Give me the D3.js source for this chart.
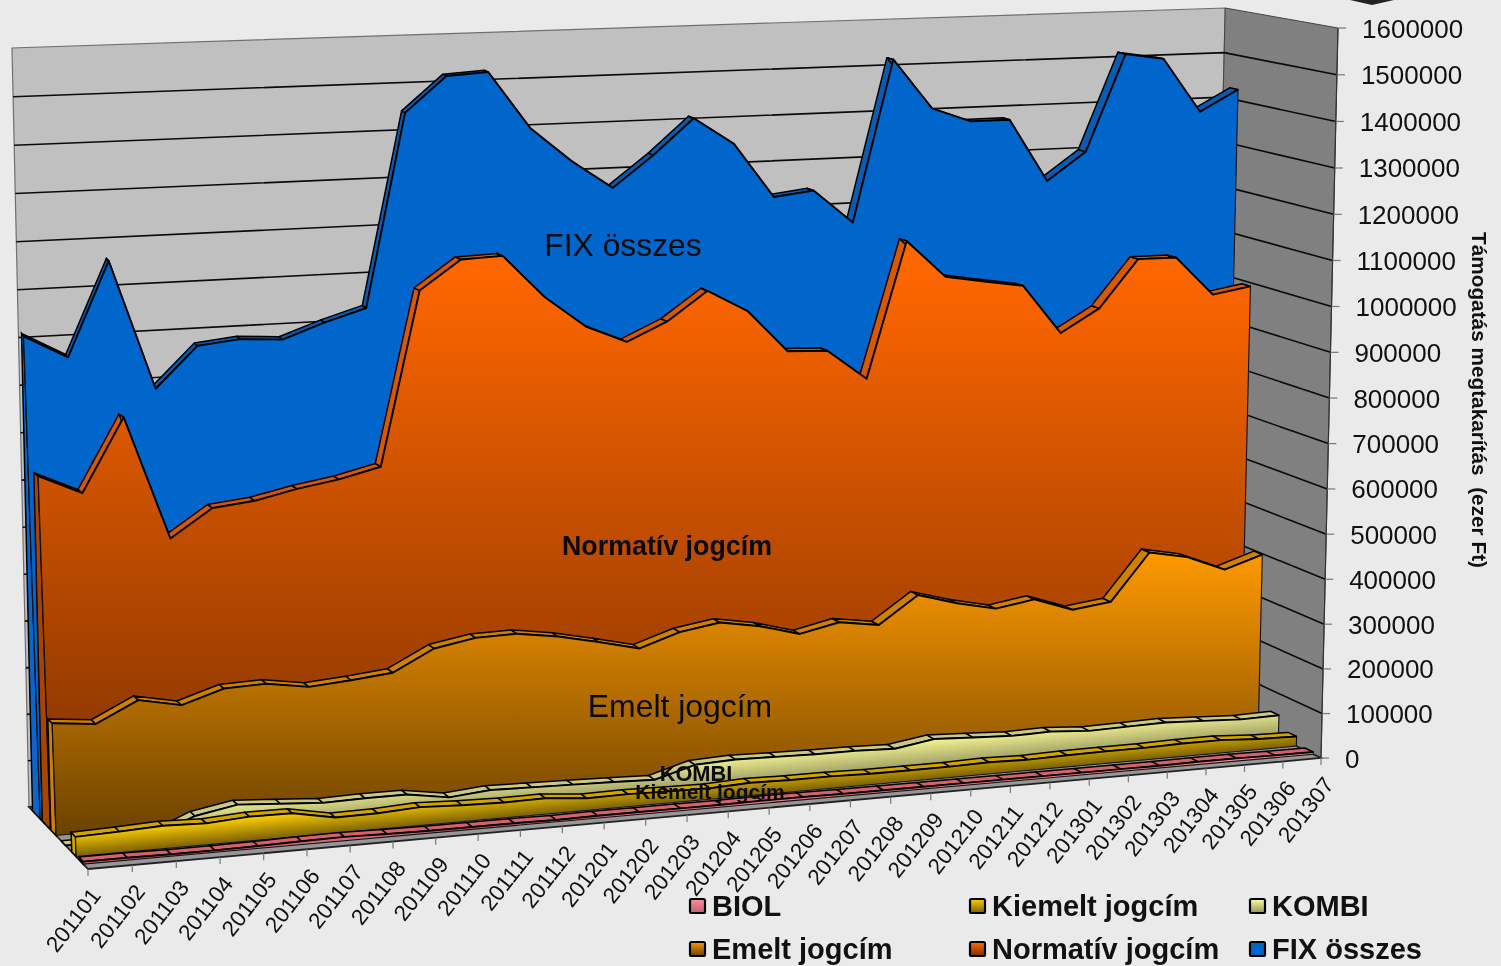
<!DOCTYPE html>
<html><head><meta charset="utf-8">
<script src="https://cdn.jsdelivr.net/npm/d3@7/dist/d3.min.js"></script>
<style>
html,body{margin:0;padding:0;background:#eaeaea;overflow:hidden}
svg{display:block;font-family:"Liberation Sans",Arial,sans-serif}
</style></head><body>
<svg id="c" width="1501" height="966"></svg>
<script>
const categories = ["201101","201102","201103","201104","201105","201106","201107","201108","201109","201110","201111","201112","201201","201202","201203","201204","201205","201206","201207","201208","201209","201210","201211","201212","201301","201302","201303","201304","201305","201306","201307"];
const yTickMax = 1600000;
const seriesNames = ["BIOL","Kiemelt jogcím","KOMBI","Emelt jogcím","Normatív jogcím","FIX összes"];
const biol = [5000,5000,4000,4000,5000,7000,8000,6000,5000,5000,5000,4000,5000,5000,5000,5000,6000,6000,5000,5000,5000,5000,5000,5000,5000,5000,5000,6000,6000,5000,5000];
const kiemelt = [41000,44000,48000,45000,51000,50000,33000,34000,39000,35000,33000,34000,26000,27000,25000,24000,28000,26000,26000,24000,24000,24000,26000,24000,26000,27000,27000,29000,29000,24000,22000];
const kombi = [0,0,0,38000,54000,48000,42000,44000,44000,30000,38000,36000,34000,32000,29000,54000,58000,56000,54000,54000,51000,65000,61000,57000,59000,53000,55000,57000,53000,49000,51000];
const emelt = [237000,228000,271000,253000,281000,284000,270000,277000,286000,331000,347000,349000,336000,317000,296000,325000,339000,324000,300000,319000,306000,366000,341000,322000,336000,306000,317000,422000,405000,370000,398000];
const normativ = [743000,702000,854000,594000,652000,661000,680000,694000,715000,1083000,1144000,1147000,1055000,987000,949000,988000,1049000,1000000,908000,904000,837000,1134000,1051000,1036000,1022000,912000,962000,1067000,1066000,978000,992000];
const fix = [1018000,969000,1165000,893000,978000,987000,981000,1012000,1038000,1446000,1520000,1525000,1403000,1329000,1268000,1334000,1410000,1351000,1232000,1242000,1168000,1520000,1410000,1378000,1378000,1239000,1300000,1513000,1499000,1378000,1424000];
const seriesValues = [biol,kiemelt,kombi,emelt,normativ,fix];

/* view geometry */
const depthLeft  = [0.08,0.20,0.38,0.54,0.635,0.81];
const depthRight = [0.07,0.22,0.38,0.56,0.72,0.87];
const ribbon = 0.075;
const capBase = [0.06,0.075,0.075,0.09,0.14,0.13];
const faceStops = [["#ff8c9c","#c06070"],["#ffd000","#7a6000"],["#ffff99","#93935f"],["#ff9900","#6a4200"],["#ff6600","#7a3000"],["#0066cc","#0066cc"]];
const ribbonFill = ["#d8606a","#d2a400","#c9c984","#d08000","#d85800","#0a5cb0"];
const gradientPx = [0,24,32,0,0,0];

const svg = d3.select("#c");
const defs = svg.append("defs");
const F0=[88,869],F1=[1321,758],B0=[29,807],B1=[1209,704];
const H={F0:796,F1:730,B0:759,B1:696};
const lerp=d3.interpolateNumber;
const tScale=d3.scalePoint().domain(categories).range([0,1]);
const vScale=d3.scaleLinear().domain([0,yTickMax]).range([0,1]);
const warp=t=>{const g=0.08;return (1+g)*t/(1+g*t);};
const vWarp=f=>f/(1+0.028*(1-f));
function P(t,d,v){
  const u=warp(t);
  const fx=lerp(F0[0],F1[0])(u),fy=lerp(F0[1],F1[1])(u);
  const bx=lerp(B0[0],B1[0])(u),by=lerp(B0[1],B1[1])(u);
  const x=lerp(fx,bx)(d),y=lerp(fy,by)(d);
  const h=lerp(lerp(H.F0,H.F1)(u),lerp(H.B0,H.B1)(u))(d);
  const lL=d<0.8?-0.035:lerp(-0.035,-0.0224)((d-0.8)/0.2);
  const lean=lerp(lL,0.0233)(u);
  const f=vWarp(vScale(v));
  return [x+lean*h*f,y-h*f];
}
const D=(si,t)=>lerp(depthLeft[si],depthRight[si])(warp(t));
const poly=d3.line();
const closed=pts=>poly(pts)+"Z";

/* gradients */
function addStops(g,s,i){
  g.append("stop").attr("offset","0").attr("stop-color",s[0]);
  if(i===4) g.append("stop").attr("offset","0.05").attr("stop-color",s[0]);
  g.append("stop").attr("offset","1").attr("stop-color",s[1]);
}
faceStops.forEach((s,i)=>{
  const g=defs.append("linearGradient").attr("id","g"+i);
  if(gradientPx[i]>0){
    const a=P(0,D(i,0),0),b=P(1,D(i,1),0);
    const L=Math.hypot(b[0]-a[0],b[1]-a[1]),nx=-(b[1]-a[1])/L,ny=(b[0]-a[0])/L;
    const mx=(a[0]+b[0])/2,my=(a[1]+b[1])/2;
    g.attr("gradientUnits","userSpaceOnUse").attr("x1",mx-nx*gradientPx[i]).attr("y1",my-ny*gradientPx[i]).attr("x2",mx).attr("y2",my);
  } else g.attr("x1",0).attr("y1",0).attr("x2",0).attr("y2",1);
  addStops(g,s,i);
  const lg=defs.append("linearGradient").attr("id","l"+i).attr("x1",0).attr("y1",0).attr("x2",0).attr("y2",1);
  addStops(lg,[s[0],s[1]],i);
});

const root=svg.append("g").style("filter","blur(0.55px)");
/* walls and floor */
root.append("path").attr("d",closed([P(0,1,0),P(0,1,yTickMax),P(1,1,yTickMax),P(1,1,0)])).attr("fill","#c0c0c0").attr("stroke","#707070").attr("stroke-width",1.2);
root.append("path").attr("d",closed([P(1,1,yTickMax),P(1,0,yTickMax),P(1,0,0),P(1,1,0)])).attr("fill","#808080").attr("stroke","#444").attr("stroke-width",1);
root.append("path").attr("d",closed([P(0,0,0),P(1,0,0),P(1,1,0),P(0,1,0)])).attr("fill","#969696").attr("stroke","#222").attr("stroke-width",1.8);

/* gridlines */
const yTicks=vScale.ticks(16);
yTicks.filter(v=>v>0&&v<yTickMax).forEach(v=>{
  root.append("path").attr("d",poly([P(0,1,v),P(1,1,v),P(1,0,v)])).attr("fill","none").attr("stroke","#0a0a0a").attr("stroke-width",1.6);
});
/* value axis */
root.append("path").attr("d",poly([P(1,0,0),P(1,0,yTickMax)])).attr("stroke","#333").attr("stroke-width",1.2).attr("fill","none");
yTicks.forEach(v=>{
  const p=P(1,0,v);
  root.append("line").attr("x1",p[0]).attr("y1",p[1]).attr("x2",p[0]+8).attr("y2",p[1]).attr("stroke","#777").attr("stroke-width",1.2);
  root.append("text").attr("x",p[0]+24).attr("y",p[1]+9.5).attr("font-size",26).attr("fill","#111").text(v);
});

/* series, back to front */
d3.range(seriesNames.length-1,-1,-1).forEach(si=>{
  const vals=seriesValues[si];
  const g=root.append("g");
  const t=categories.map(c=>tScale(c));
  const d0=D(si,0),n=t.length-1;
  g.append("path").attr("d",closed([P(0,d0,0),P(0,d0,vals[0]),P(0,d0+ribbon,vals[0]),P(0,d0+capBase[si],0)]))
    .attr("fill",si===4?"#a84400":si===5?"#0a66cc":ribbonFill[si]).attr("stroke","#000").attr("stroke-width",1.5);
  d3.pairs(d3.range(vals.length)).forEach(([a,b])=>{
    g.append("path").attr("d",closed([P(t[a],D(si,t[a]),vals[a]),P(t[b],D(si,t[b]),vals[b]),P(t[b],D(si,t[b])+ribbon,vals[b]),P(t[a],D(si,t[a])+ribbon,vals[a])]))
      .attr("fill",ribbonFill[si]).attr("stroke","#000").attr("stroke-width",1.5).attr("stroke-linejoin","round");
  });
  const top=vals.map((v,i)=>P(t[i],D(si,t[i]),v));
  const pts=[P(0,d0,0)].concat(top,[P(1,D(si,1),0)]);
  g.append("path").attr("d",closed(pts)).attr("fill",`url(#g${si})`).attr("stroke","none");
  g.append("path").attr("d",poly(top)).attr("fill","none").attr("stroke","#000").attr("stroke-width",1.9).attr("stroke-linejoin","round");
  g.append("path").attr("d",poly([top[0],P(0,d0,0),P(1,D(si,1),0),top[n]])).attr("fill","none").attr("stroke","#111").attr("stroke-width",1.1);
});

/* category axis */
categories.forEach(c=>{
  const p=P(tScale(c),0,0);
  root.append("line").attr("x1",p[0]).attr("y1",p[1]).attr("x2",p[0]).attr("y2",p[1]+7).attr("stroke","#777").attr("stroke-width",1.2);
  root.append("text").attr("transform",`translate(${p[0]+14},${p[1]+27}) rotate(-52)`)
    .attr("text-anchor","end").attr("font-size",22.5).attr("fill","#111").text(c);
});

/* in-chart labels */
[["FIX összes",623,256,31.8,400],["Normatív jogcím",667,555,26.8,700],["Emelt jogcím",680,717,31.9,400],["KOMBI",696,781,21.8,700],["Kiemelt jogcím",710,799,21,700]].forEach(l=>{
  root.append("text").attr("x",l[1]).attr("y",l[2]).attr("text-anchor","middle").attr("font-size",l[3]).attr("font-weight",l[4]).attr("fill","#0a0a0a").text(l[0]);
});
/* axis title */
root.append("text").attr("transform","translate(1472,232) rotate(90)").attr("font-size",20.5).attr("font-weight",700).attr("fill","#111")
  .attr("textLength",336).attr("lengthAdjust","spacingAndGlyphs").style("white-space","pre").text("Támogatás megtakarítás  (ezer Ft)");

/* legend */
const legendCols=[689,969,1249], legendRows=[906,949];
seriesNames.forEach((n,i)=>{
  const x=legendCols[i%3],y=legendRows[Math.floor(i/3)];
  root.append("rect").attr("x",x+1).attr("y",y-7).attr("width",15).attr("height",14).attr("rx",1.5)
    .attr("fill",i===5?"#0066cc":`url(#l${i})`).attr("stroke","#000").attr("stroke-width",2.2);
  root.append("text").attr("x",x+23).attr("y",y+10).attr("font-size",29).attr("font-weight",700).attr("fill","#111").text(n);
});
/* clipped mark at the top edge */
root.append("path").attr("d",closed([[1350,0],[1394,0],[1372,5]])).attr("fill","#222");
</script></body></html>
